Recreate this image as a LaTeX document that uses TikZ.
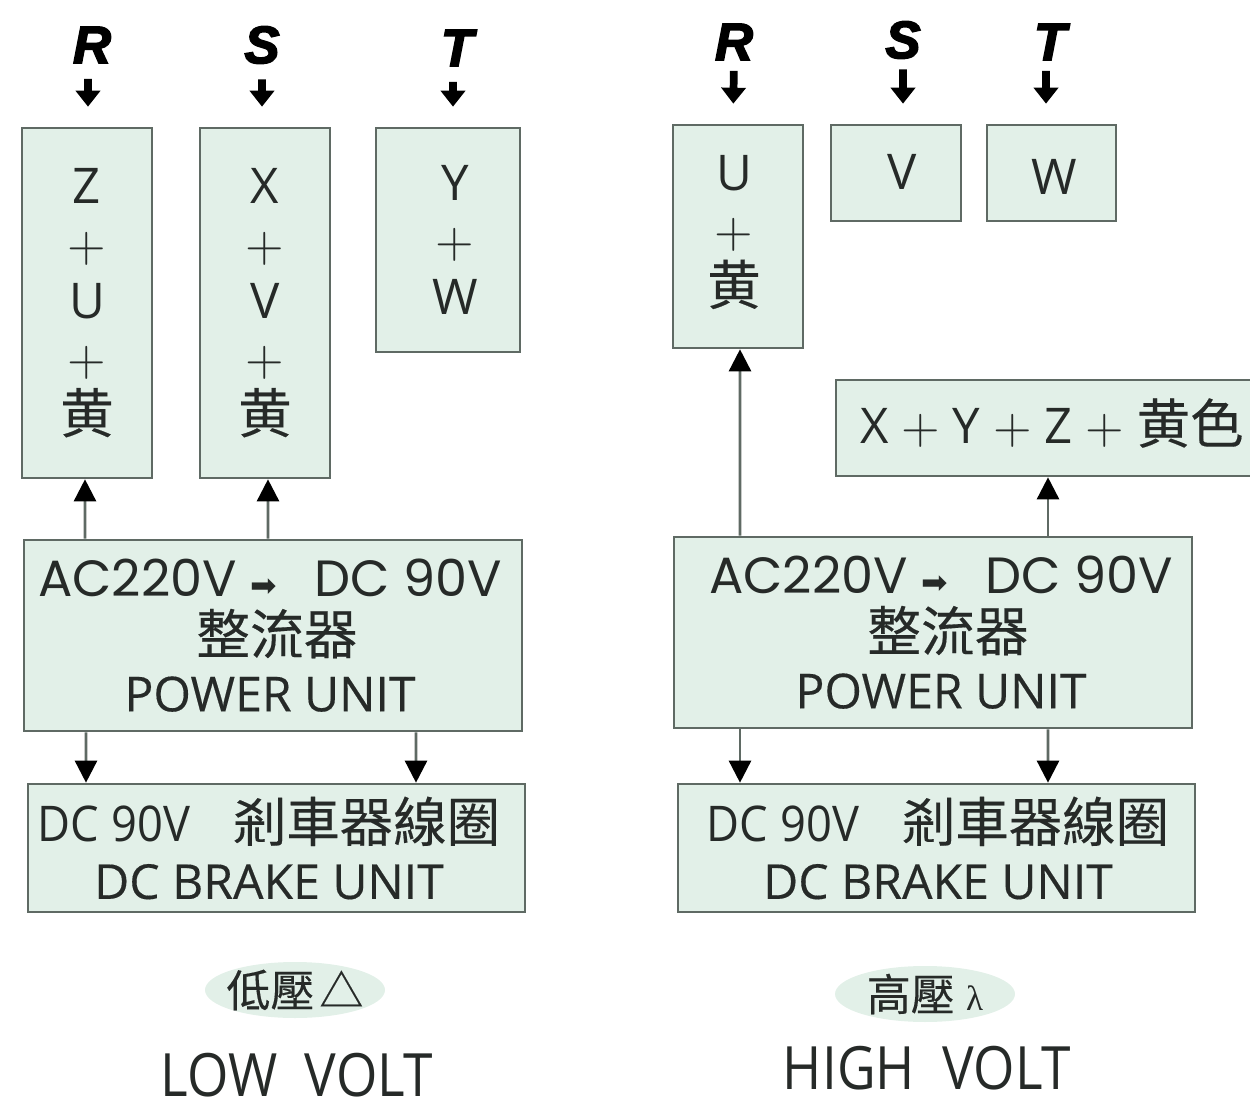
\documentclass[tikz,border=0pt]{standalone}
\usepackage{fontspec}
\usepackage{xcolor}
\setmainfont{Open Sans}
\newfontfamily\cjk[FakeBold=0.3]{Noto Sans CJK TC}
\newfontfamily\phasefont[FakeBold=3]{Liberation Sans}
\newfontfamily\arrowfont{DejaVu Sans}
\newfontfamily\lambdafont{Liberation Serif}
\newfontfamily\widefont{Poppins}
\newfontfamily\unitfont[FakeBold=0.3]{Open Sans}
\usetikzlibrary{arrows.meta}
\usetikzlibrary{positioning}
\usetikzlibrary{shapes.geometric}
\definecolor{panelfill}{HTML}{E2F0E8}
\definecolor{panelline}{HTML}{5F6A64}
\definecolor{inktext}{HTML}{262A28}
\newcommand{\plusmark}{$+$}
\newcommand{\yellowmark}{{\cjk\fontsize{15.2}{16.5}\selectfont 黄}}
\newcommand{\acline}{{\widefont\fontsize{14.5}{16}\selectfont AC220V {\arrowfont\fontsize{9}{9}\selectfont ➡}\hspace{1mm} \ DC 90V}}
\newcommand{\rectline}{\hspace*{1.4mm}{\cjk\fontsize{15.3}{16}\selectfont 整流器}}
\newcommand{\coilline}{\scalebox{0.92}[1]{DC 90V}\hspace{4.3mm}{\cjk\fontsize{15.2}{16}\selectfont 剎車器線圈}}
\newcommand{\unitline}[1]{{\unitfont\fontsize{13.7}{16.3}\selectfont #1}}
\tikzset{
  panel/.style={draw=panelline, fill=panelfill, line width=0.75pt, inner sep=0pt, align=center,
    text=inktext, font=\fontsize{14}{16.3}\selectfont},
  paneltext/.style={inner sep=0pt, align=center, text=inktext, font=\fontsize{14}{16.3}\selectfont},
  phase/.style={inner sep=0pt, font=\fontsize{15}{15}\phasefont\bfseries\itshape},
  feed/.style={line width=2.2pt, black, -{Triangle[length=0.16cm, width=0.24cm]}, shorten <=0.15cm, shorten >=0.20cm},
  link/.style={draw=panelline, line width=0.75pt, -{Triangle[black, length=0.22cm, width=0.22cm]}},
  tag/.style={ellipse, fill=panelfill, inner sep=-0.05cm, minimum width=1.80cm, minimum height=0.56cm,
    text=inktext, font=\fontsize{12.5}{14}\selectfont},
  volt/.style={inner sep=0pt, text=inktext, font=\fontsize{17}{20}\selectfont}
}
\begin{document}
\begin{tikzpicture}
        \useasboundingbox (0,0) rectangle (12.5,11.08);
        % low volt side
        \node[panel, minimum width=1.30cm, minimum height=3.50cm] (boxZ) at (0.87,8.05) {Z\\\plusmark\\U\\\plusmark\\\yellowmark};
        \node[panel, minimum width=1.30cm, minimum height=3.50cm] (boxX) at (2.65,8.05) {X\\\plusmark\\V\\\plusmark\\\yellowmark};
        \node[panel, minimum width=1.44cm, minimum height=2.24cm] (boxY) at (4.48,8.68) {};
        \node[paneltext] (textY) at (4.55,8.68) {Y\\\plusmark\\W};
        \node[panel, minimum width=4.98cm, minimum height=1.91cm] (powerL) at (2.73,4.725) {};
        \node[paneltext] (textPowerL) at (2.70,4.725) {\acline\\\rectline\\\unitline{POWER UNIT}};
        \node[panel, minimum width=4.97cm, minimum height=1.28cm] (brakeL) at (2.765,2.60) {};
        \node[paneltext] (textBrakeL) at (2.69,2.60) {\coilline\\\unitline{DC BRAKE UNIT}};
        \node[phase] (phaseRa) at (0.92,10.63) {R};
        \node[phase] (phaseSa) at (2.62,10.63) {S};
        \node[phase] (phaseTa) at (4.57,10.60) {T};
        \draw[feed] ([xshift=-0.4mm]phaseRa.south) -- ([xshift=0.1mm]boxZ.north);
        \draw[feed] (phaseSa.south) -- ([xshift=-0.3mm]boxX.north);
        \draw[feed] ([xshift=-0.4mm]phaseTa.south) -- ([xshift=0.5mm]boxY.north);
        \draw[link] ([xshift=-1.88cm]powerL.north) -- ([xshift=-0.02cm]boxZ.south);
        \draw[link] ([xshift=-0.05cm]powerL.north) -- ([xshift=0.03cm]boxX.south);
        \draw[link] ([xshift=-1.87cm]powerL.south) -- ([xshift=-1.905cm]brakeL.north);
        \draw[link] ([xshift=1.43cm]powerL.south) -- ([xshift=1.395cm]brakeL.north);
        \node[tag] (tagL) at (2.95,1.18) {\cjk 低壓\hspace{0.5mm}△};
        \node[volt] (voltL) at (2.97,0.33) {\scalebox{0.89}[1]{LOW\ \ VOLT}};
        % high volt side
        \node[panel, minimum width=1.30cm, minimum height=2.23cm] (boxU) at (7.38,8.715) {};
        \node[paneltext] (textU) at (7.34,8.76) {U\\\plusmark\\\yellowmark};
        \node[panel, minimum width=1.30cm, minimum height=0.96cm] (boxV) at (8.96,9.35) {};
        \node[paneltext] (textV) at (9.02,9.36) {V};
        \node[panel, minimum width=1.29cm, minimum height=0.96cm] (boxW) at (10.515,9.35) {};
        \node[paneltext] (textW) at (10.54,9.31) {W};
        \node[panel, minimum width=4.34cm, minimum height=0.96cm] (boxXYZ) at (10.53,6.80) {};
        \node[paneltext] (textXYZ) at (10.52,6.85) {X \plusmark{} Y \plusmark{} Z \plusmark{} {\cjk\fontsize{15.2}{16}\selectfont 黄色}};
        \node[panel, minimum width=5.18cm, minimum height=1.91cm] (powerR) at (9.33,4.755) {};
        \node[paneltext] (textPowerR) at (9.41,4.755) {\acline\\\rectline\\\unitline{POWER UNIT}};
        \node[panel, minimum width=5.17cm, minimum height=1.28cm] (brakeR) at (9.365,2.60) {};
        \node[paneltext] (textBrakeR) at (9.38,2.60) {\coilline\\\unitline{DC BRAKE UNIT}};
        \node[phase] (phaseRb) at (7.34,10.66) {R};
        \node[phase] (phaseSb) at (9.03,10.68) {S};
        \node[phase] (phaseTb) at (10.50,10.66) {T};
        \draw[feed, shorten <=0.10cm] (phaseRb.south) -- ([xshift=-0.5mm]boxU.north);
        \draw[feed, shorten <=0.10cm] (phaseSb.south) -- ([xshift=0.7mm]boxV.north);
        \draw[feed, shorten <=0.10cm] ([xshift=-0.4mm]phaseTb.south) -- ([xshift=-0.55mm]boxW.north);
        \draw[link] ([xshift=-1.93cm]powerR.north) -- ([xshift=0.02cm]boxU.south);
        \draw[link] ([xshift=1.15cm]powerR.north) -- ([xshift=-0.05cm]boxXYZ.south);
        \draw[link] ([xshift=-1.93cm]powerR.south) -- ([xshift=-1.965cm]brakeR.north);
        \draw[link] ([xshift=1.15cm]powerR.south) -- ([xshift=1.115cm]brakeR.north);
        \node[tag] (tagR) at (9.25,1.14) {{\cjk 高壓} {\lambdafont\fontsize{10}{10}\selectfont λ}};
        \node[volt] (voltR) at (9.27,0.40) {\scalebox{0.89}[1]{HIGH\ \ VOLT}};
\end{tikzpicture}
\end{document}
